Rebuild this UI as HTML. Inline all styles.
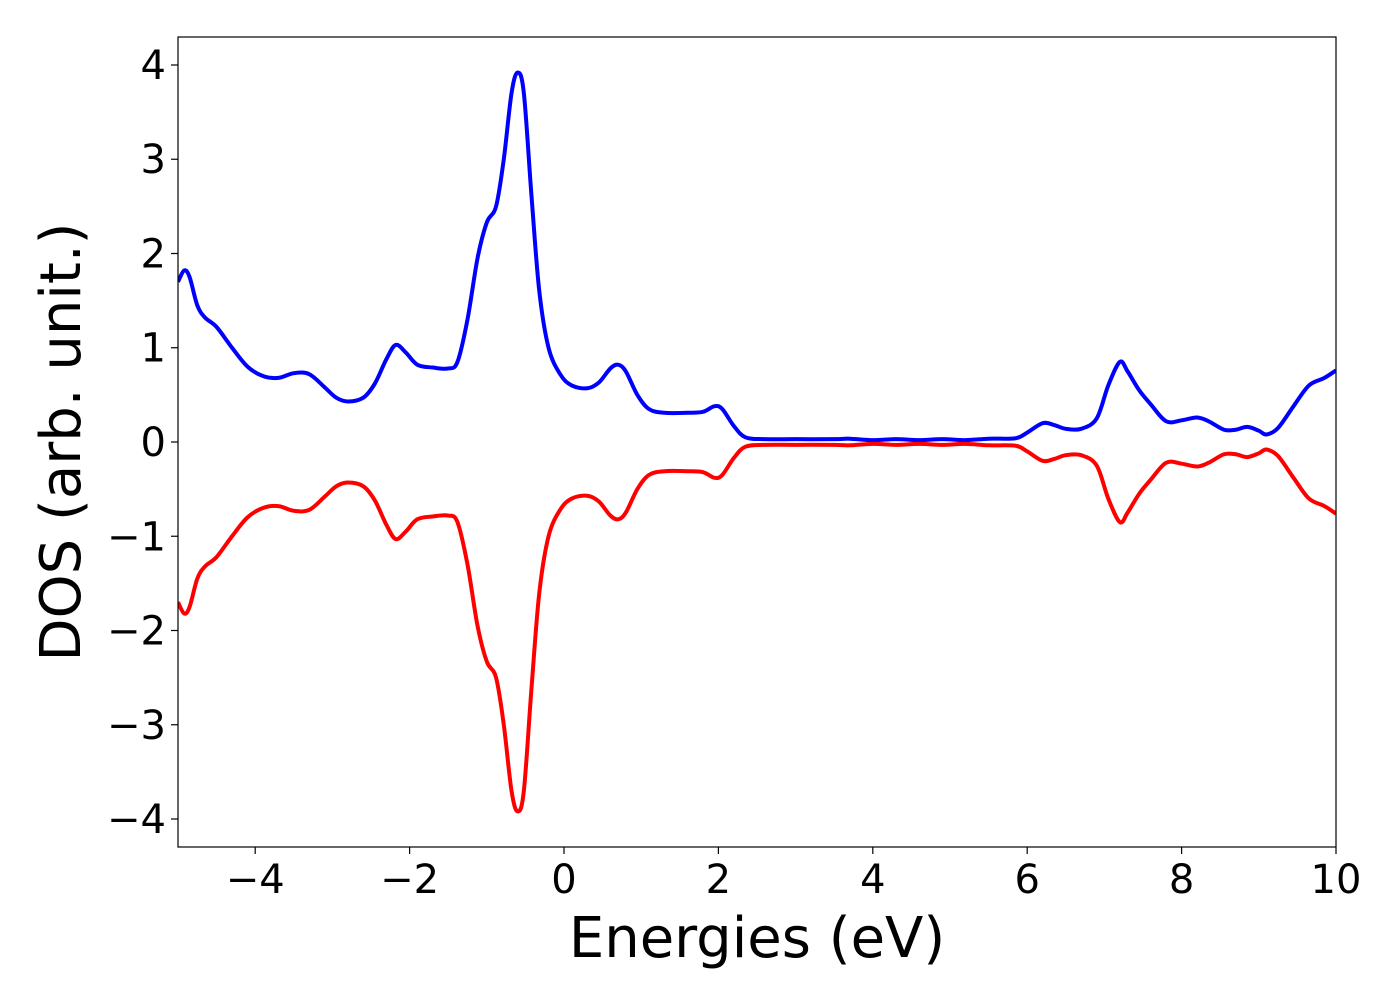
<!DOCTYPE html>
<html><head><meta charset="utf-8"><style>
html,body{margin:0;padding:0;background:#fff;}
svg text{font-family:"DejaVu Sans","Liberation Sans",sans-serif;fill:#000;}
</style></head><body>
<svg id="chart" width="1400" height="1000" viewBox="0 0 1400 1000" xmlns="http://www.w3.org/2000/svg">
<g id="plot"></g>
</svg>
<script>
const energies=[-5,-4.92,-4.85,-4.75,-4.65,-4.5,-4.3,-4.1,-3.9,-3.7,-3.5,-3.3,-3.1,-2.95,-2.8,-2.6,-2.45,-2.3,-2.18,-2.05,-1.9,-1.7,-1.5,-1.38,-1.25,-1.12,-1.0,-0.88,-0.78,-0.68,-0.6,-0.52,-0.42,-0.32,-0.2,-0.05,0.1,0.3,0.45,0.6,0.7,0.8,0.95,1.1,1.3,1.6,1.8,1.95,2.05,2.2,2.35,2.6,3.0,3.5,3.7,4.0,4.3,4.6,4.9,5.2,5.5,5.85,6.0,6.2,6.35,6.5,6.7,6.9,7.05,7.2,7.3,7.45,7.6,7.8,8.0,8.2,8.35,8.55,8.7,8.85,9.0,9.1,9.25,9.45,9.65,9.85,10];
const dosUp=[1.7,1.82,1.75,1.45,1.32,1.22,1.0,0.8,0.7,0.68,0.73,0.72,0.58,0.47,0.43,0.47,0.62,0.88,1.03,0.95,0.82,0.79,0.78,0.85,1.3,1.95,2.33,2.5,3.0,3.7,3.92,3.7,2.6,1.6,1.0,0.72,0.6,0.57,0.63,0.78,0.82,0.75,0.5,0.35,0.31,0.31,0.32,0.38,0.35,0.17,0.05,0.03,0.03,0.03,0.035,0.02,0.03,0.02,0.03,0.02,0.035,0.04,0.1,0.2,0.18,0.14,0.14,0.25,0.6,0.85,0.75,0.55,0.4,0.22,0.23,0.26,0.22,0.13,0.13,0.16,0.12,0.08,0.15,0.38,0.6,0.68,0.76];
const dosDown=[-1.7,-1.82,-1.75,-1.45,-1.32,-1.22,-1.0,-0.8,-0.7,-0.68,-0.73,-0.72,-0.58,-0.47,-0.43,-0.47,-0.62,-0.88,-1.03,-0.95,-0.82,-0.79,-0.78,-0.85,-1.3,-1.95,-2.33,-2.5,-3.0,-3.7,-3.92,-3.7,-2.6,-1.6,-1.0,-0.72,-0.6,-0.57,-0.63,-0.78,-0.82,-0.75,-0.5,-0.35,-0.31,-0.31,-0.32,-0.38,-0.35,-0.17,-0.05,-0.03,-0.03,-0.03,-0.035,-0.02,-0.03,-0.02,-0.03,-0.02,-0.035,-0.04,-0.1,-0.2,-0.18,-0.14,-0.14,-0.25,-0.6,-0.85,-0.75,-0.55,-0.4,-0.22,-0.23,-0.26,-0.22,-0.13,-0.13,-0.16,-0.12,-0.08,-0.15,-0.38,-0.6,-0.68,-0.76];
const xTicks=[-4,-2,0,2,4,6,8,10];
const yTicks=[-4,-3,-2,-1,0,1,2,3,4];

const L=178,R=1336,T=37,B=847,xMin=-5,xMax=10,yMin=-4.297,yMax=4.297;
const sx=v=>L+(v-xMin)/(xMax-xMin)*(R-L);
const sy=v=>B-(v-yMin)/(yMax-yMin)*(B-T);
const NS="http://www.w3.org/2000/svg";
const g=document.getElementById('plot');
function mk(tag,attrs,parent){const e=document.createElementNS(NS,tag);for(const k in attrs)e.setAttribute(k,attrs[k]);(parent||g).appendChild(e);return e;}
const fmt=v=>(v<0?'\u2212':'')+Math.abs(v);

function pathFor(xs,ys){
  const p=xs.map((x,i)=>[sx(x),sy(ys[i])]);
  let d='M'+p[0][0]+','+p[0][1];
  for(let i=0;i<p.length-1;i++){
    const p0=p[Math.max(0,i-1)],p1=p[i],p2=p[i+1],p3=p[Math.min(p.length-1,i+2)];
    const c1=[p1[0]+(p2[0]-p0[0])/6,p1[1]+(p2[1]-p0[1])/6];
    const c2=[p2[0]-(p3[0]-p1[0])/6,p2[1]-(p3[1]-p1[1])/6];
    d+=' C'+c1[0]+','+c1[1]+' '+c2[0]+','+c2[1]+' '+p2[0]+','+p2[1];
  }
  return d;
}
const clip=mk('clipPath',{id:'pc'});mk('rect',{x:L,y:T,width:R-L,height:B-T},clip);
const up=mk('path',{d:pathFor(energies,dosUp),fill:'none',stroke:'#0000ff','stroke-width':4,'clip-path':'url(#pc)'});


const dn=mk('path',{d:pathFor(energies,dosDown),fill:'none',stroke:'#ff0000','stroke-width':4,'clip-path':'url(#pc)'});


const frame=mk('rect',{x:L,y:T,width:R-L,height:B-T,fill:'none',stroke:'#000','stroke-width':1.2});


xTicks.forEach(v=>{
  const x=sx(v);
  const t=mk('line',{x1:x,x2:x,y1:B,y2:B+7,stroke:'#000','stroke-width':1.2});
  
  
  const lb=mk('text',{x:x,y:893,'text-anchor':'middle','font-size':40});lb.textContent=fmt(v);
  
  
});
yTicks.forEach(v=>{
  const y=sy(v);
  const t=mk('line',{x1:L-7,x2:L,y1:y,y2:y,stroke:'#000','stroke-width':1.2});
  
  
  const lb=mk('text',{x:166,y:y+14,'text-anchor':'end','font-size':40});lb.textContent=fmt(v);
  
  
});
const xl=mk('text',{x:757,y:957,'text-anchor':'middle','font-size':56});xl.textContent='Energies (eV)';


const yl=mk('text',{x:0,y:0,'text-anchor':'middle','font-size':56,transform:'translate(80,442) rotate(-90)'});yl.textContent='DOS (arb. unit.)';


</script>
</body></html>
